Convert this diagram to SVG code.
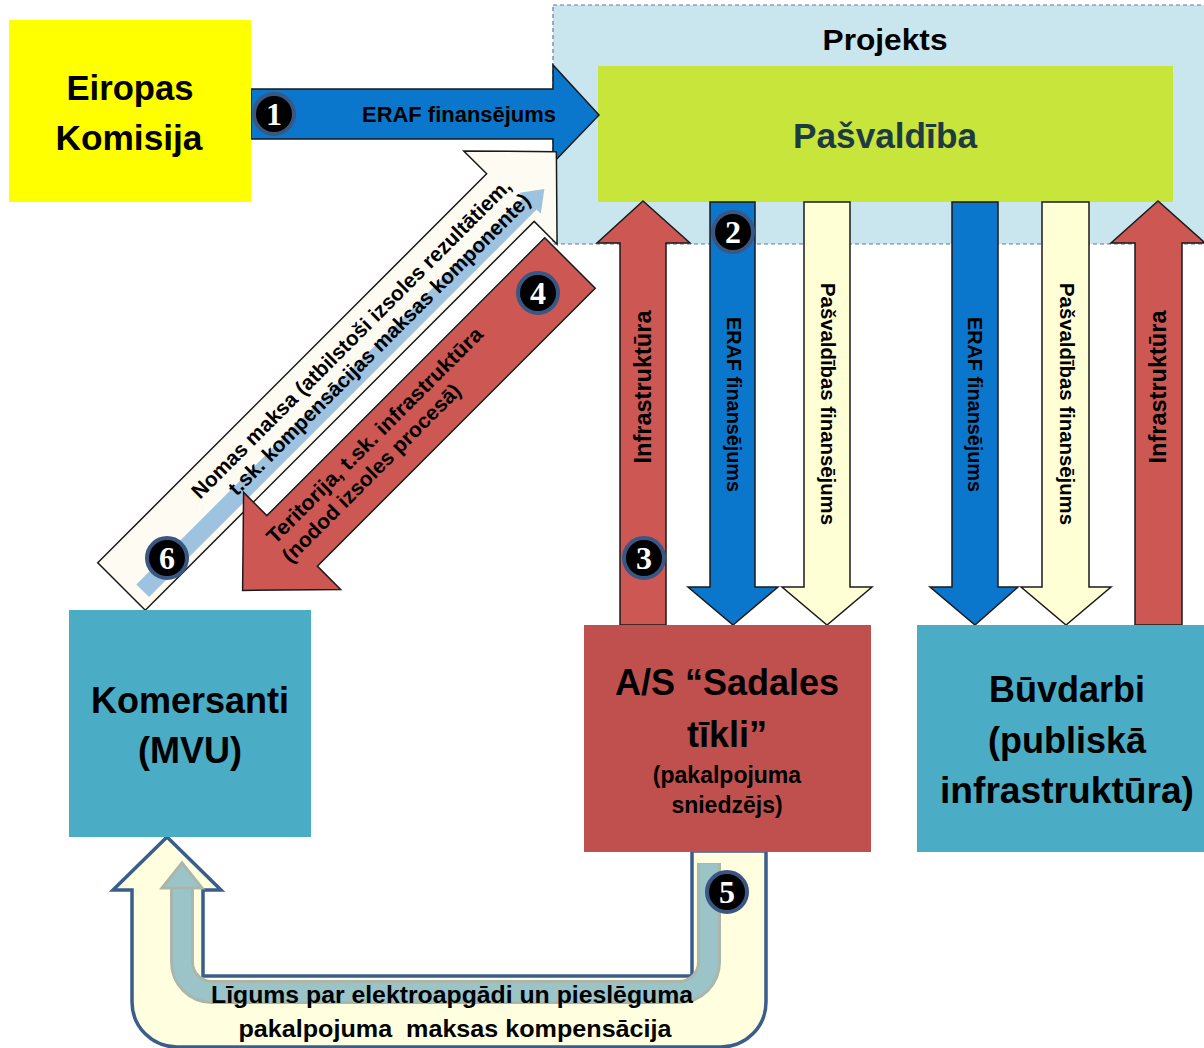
<svg xmlns="http://www.w3.org/2000/svg" width="1204" height="1048" viewBox="0 0 1204 1048">
<style>
.t{font-family:"Liberation Sans",Arial,sans-serif;font-weight:bold;fill:#000}
.c{text-anchor:middle}
.num{font-family:"Liberation Serif","Times New Roman",serif;font-weight:bold;fill:#fff;font-size:32px;text-anchor:middle}
.bd{fill:#000;stroke:#3A5683;stroke-width:4}
.ol{stroke:#1a1a1a;stroke-width:1.5;stroke-linejoin:miter}
.blue{fill:#0A77CC}
.red{fill:#CD5753}
.cream{fill:#FFFFD6}
</style>
<rect width="1204" height="1048" fill="#fff"/>

<g id="node-projekts">
<rect x="553" y="5" width="660" height="239" fill="#C9E5EE" stroke="#5B7BA3" stroke-width="1.2" stroke-dasharray="4 3"/>
<text class="t c" x="885" y="50" font-size="30" textLength="125" lengthAdjust="spacingAndGlyphs">Projekts</text>
</g>

<g id="node-pasvaldiba">
<rect x="598" y="66" width="575" height="136" fill="#C8E53C"/>
<text class="t c" x="885" y="148" font-size="35" style="fill:#1D3B40" textLength="184" lengthAdjust="spacingAndGlyphs">Pašvaldība</text>
</g>

<g id="connectors">
<!-- 1: EK -> Pasvaldiba -->
<polygon class="blue ol" points="251,89 553,89 553,65 599,115 553,163 553,139 251,139"/>
<text class="t" x="556" y="122" font-size="22" text-anchor="end" textLength="194" lengthAdjust="spacingAndGlyphs">ERAF finansējums</text>

<!-- vertical arrows -->
<polygon class="red ol" points="620,625 620,243 597,243 643,201 690,243 666,243 666,625"/>
<polygon class="blue ol" points="710,202 755,202 755,587 778,587 733,625 688,587 710,587"/>
<polygon class="cream ol" points="804,202 850,202 850,587 872,587 827,625 782,587 804,587"/>
<polygon class="blue ol" points="952,202 998,202 998,587 1018,587 975,625 930,587 952,587"/>
<polygon class="cream ol" points="1042,202 1089,202 1089,587 1111,587 1066,625 1021,587 1042,587"/>
<polygon class="red ol" points="1135,625 1135,243 1111,243 1158,201 1205,243 1182,243 1182,625"/>

<text class="t c" transform="translate(651,387) rotate(-90)" font-size="23" textLength="153" lengthAdjust="spacingAndGlyphs">Infrastruktūra</text>
<text class="t c" transform="translate(727,404.5) rotate(90)" font-size="21" textLength="175" lengthAdjust="spacingAndGlyphs">ERAF finansējums</text>
<text class="t c" transform="translate(821,404) rotate(90)" font-size="21" textLength="242" lengthAdjust="spacingAndGlyphs">Pašvaldības finansējums</text>
<text class="t c" transform="translate(968,404.5) rotate(90)" font-size="21" textLength="175" lengthAdjust="spacingAndGlyphs">ERAF finansējums</text>
<text class="t c" transform="translate(1060,404) rotate(90)" font-size="21" textLength="242" lengthAdjust="spacingAndGlyphs">Pašvaldības finansējums</text>
<text class="t c" transform="translate(1166,387) rotate(-90)" font-size="23" textLength="153" lengthAdjust="spacingAndGlyphs">Infrastruktūra</text>

<!-- 6: Komersanti -> Projekts (nomas maksa) -->
<g transform="translate(121.5,586.5) rotate(-45)">
<path d="M0,-33.6 H550 V-66 L615,0 L550,66 V33.6 H0 Z" fill="#FEFBF2" class="ol"/>
<path d="M12,9 H560 V3 L580,18 L560,33 V27 H12 Z" fill="#9DC3E0"/>
</g>
<!-- 4: Pasvaldiba -> Komersanti (teritorija) -->
<g transform="translate(570,263) rotate(135)">
<path d="M0,-35.7 H393 V-68.6 L463,0 L393,68.6 V35.7 H0 Z" class="red ol"/>
</g>
<text class="t" transform="translate(200,500) rotate(-45)" font-size="21" textLength="442" lengthAdjust="spacingAndGlyphs">Nomas maksa (atbilstoši izsoles rezultātiem,</text>
<text class="t" transform="translate(236.7,496.7) rotate(-45)" font-size="21" textLength="417" lengthAdjust="spacingAndGlyphs">t.sk. kompensācijas maksas komponente)</text>
<text class="t" transform="translate(275,545) rotate(-45)" font-size="21" textLength="296" lengthAdjust="spacingAndGlyphs">Teritorija, t.sk. infrastruktūra</text>
<text class="t" transform="translate(290.5,564) rotate(-45)" font-size="21" textLength="243" lengthAdjust="spacingAndGlyphs">(nodod izsoles procesā)</text>

<!-- 5: Sadales tikli -> Komersanti (U arrow) -->
<path d="M692,851 L692,976 L203,976 L203,890 L221,890 L167,837 L113,890 L132,890 L132,1002 A45,45 0 0 0 177,1047 L721,1047 A45,45 0 0 0 766,1002 L766,851 Z" fill="#FFFFDF" stroke="#3B5D8C" stroke-width="3.5" stroke-linejoin="miter"/>
<path d="M709,863 L709,962 A30,30 0 0 1 679,992 L212,992 A30,30 0 0 1 182,962 L182,886" fill="none" stroke="#AAB6AB" stroke-width="24"/>
<path d="M709,864 L709,962 A30,30 0 0 1 679,992 L212,992 A30,30 0 0 1 182,962 L182,886" fill="none" stroke="#9BC4C9" stroke-width="18"/>
<polygon points="182,863 202,888 162,888" fill="#9BC4C9" stroke="#AAB6AB" stroke-width="3"/>
<text class="t c" x="452" y="1003" font-size="24" textLength="482" lengthAdjust="spacingAndGlyphs">Līgums par elektroapgādi un pieslēguma</text>
<text class="t c" x="455" y="1037" font-size="24" style="white-space:pre" textLength="433" lengthAdjust="spacingAndGlyphs">pakalpojuma  maksas kompensācija</text>

<!-- badges -->
<g id="badge-1"><circle class="bd" cx="274" cy="114" r="20"/><text class="num" x="274" y="125">1</text></g>
<g id="badge-2"><circle class="bd" cx="733" cy="232" r="20"/><text class="num" x="733" y="243">2</text></g>
<g id="badge-3"><circle class="bd" cx="644" cy="558" r="20"/><text class="num" x="644" y="569">3</text></g>
<g id="badge-4"><circle class="bd" cx="538" cy="293" r="20"/><text class="num" x="538" y="304">4</text></g>
<g id="badge-5"><circle class="bd" cx="727" cy="892" r="20"/><text class="num" x="727" y="903">5</text></g>
<g id="badge-6"><circle class="bd" cx="167" cy="558" r="20"/><text class="num" x="167" y="569">6</text></g>
</g>

<g id="node-eiropas">
<rect x="9" y="20" width="242" height="182" fill="#FFFF00"/>
<text class="t c" x="130" y="100" font-size="35" textLength="127" lengthAdjust="spacingAndGlyphs">Eiropas</text>
<text class="t c" x="129" y="150" font-size="35" textLength="147" lengthAdjust="spacingAndGlyphs">Komisija</text>
</g>

<g id="node-sadales">
<rect x="584" y="625" width="287" height="227" fill="#C0504D"/>
<text class="t c" x="727" y="695" font-size="36">A/S “Sadales</text>
<text class="t c" x="727" y="747" font-size="36">tīkli”</text>
<text class="t c" x="727" y="783" font-size="23">(pakalpojuma</text>
<text class="t c" x="727" y="813" font-size="23">sniedzējs)</text>
</g>

<g id="node-buvdarbi">
<rect x="917" y="625" width="300" height="227" fill="#4BACC6"/>
<text class="t c" x="1067" y="702" font-size="36">Būvdarbi</text>
<text class="t c" x="1067" y="753" font-size="36">(publiskā</text>
<text class="t c" x="1067" y="803" font-size="36" textLength="254" lengthAdjust="spacingAndGlyphs">infrastruktūra)</text>
</g>

<g id="node-komersanti">
<rect x="69" y="610" width="242" height="227" fill="#4BACC6"/>
<text class="t c" x="190" y="713" font-size="36">Komersanti</text>
<text class="t c" x="190" y="763" font-size="36">(MVU)</text>
</g>
</svg>
